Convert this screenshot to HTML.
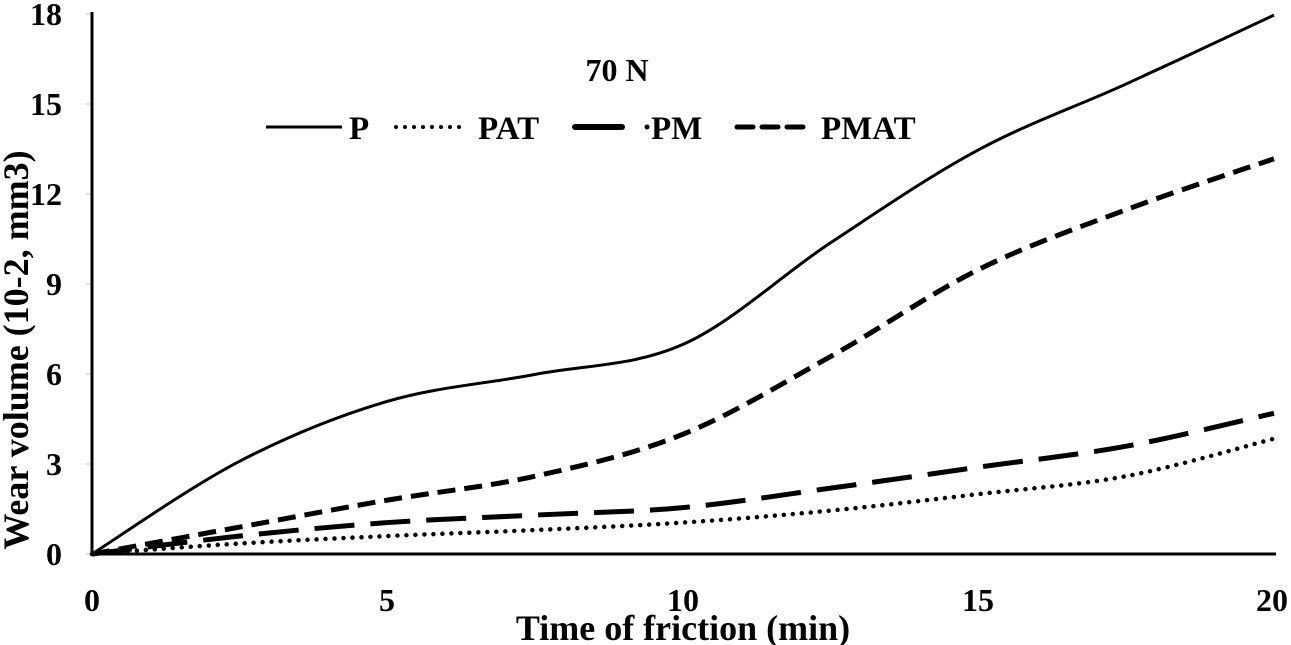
<!DOCTYPE html>
<html><head><meta charset="utf-8"><style>
body{margin:0;background:#fff}
svg{display:block;font-family:"Liberation Serif",serif;font-weight:bold}
</style></head><body>
<svg id="s" width="1291" height="645" viewBox="0 0 1291 645">
<g stroke="#bbb" stroke-width="1">
<line x1="86" y1="14" x2="92" y2="14"/><line x1="86" y1="104" x2="92" y2="104"/><line x1="86" y1="194" x2="92" y2="194"/><line x1="86" y1="284" x2="92" y2="284"/><line x1="86" y1="374" x2="92" y2="374"/><line x1="86" y1="464" x2="92" y2="464"/><line x1="86" y1="554" x2="92" y2="554"/>
</g>
<line x1="92" y1="12" x2="92" y2="555" stroke="#000" stroke-width="3"/>
<line x1="91" y1="554" x2="1276" y2="554" stroke="#000" stroke-width="3"/>
<g font-size="32" text-anchor="end">
<text x="62" y="25">18</text><text x="62" y="115">15</text><text x="62" y="205">12</text><text x="62" y="295">9</text><text x="62" y="385">6</text><text x="62" y="475">3</text><text x="62" y="565">0</text>
</g>
<g font-size="32" text-anchor="middle">
<text x="92" y="611">0</text><text x="387" y="611">5</text><text x="683" y="611">10</text><text x="978" y="611">15</text><text x="1272" y="611">20</text>
</g>
<text x="683" y="640" font-size="36" text-anchor="middle">Time of friction (min)</text>
<text transform="translate(28,350) rotate(-90)" font-size="36" text-anchor="middle">Wear volume (10-2, mm3)</text>
<text x="617" y="81" font-size="32" text-anchor="middle">70 N</text>
<g font-size="33">
<line x1="266" y1="127" x2="342" y2="127" stroke="#000" stroke-width="3"/><text x="349" y="139">P</text>
<line x1="396" y1="127" x2="465" y2="127" stroke="#000" stroke-width="4" stroke-dasharray="0 9" stroke-linecap="round"/><text x="478" y="139">PAT</text>
<line x1="575" y1="127" x2="622" y2="127" stroke="#000" stroke-width="6" stroke-linecap="round"/><circle cx="647" cy="127" r="2.5"/><text x="651" y="139">PM</text>
<line x1="737" y1="127" x2="805" y2="127" stroke="#000" stroke-width="5" stroke-dasharray="16 9" stroke-linecap="round"/><text x="821" y="139">PMAT</text>
</g>
<path id="P" fill="none" stroke="#000" stroke-width="3"/>
<path id="PAT" fill="none" stroke="#000" stroke-width="4.5" stroke-dasharray="0 9" stroke-linecap="round"/>
<path id="PM" fill="none" stroke="#000" stroke-width="5" stroke-dasharray="40 16"/>
<path id="PMAT" fill="none" stroke="#000" stroke-width="5" stroke-dasharray="18 9"/>
</svg>
<script>
function X(t){return 92+t*59.1}function Y(v){return 554-v*29.94}
function cr(pts){var p=pts.map(function(a){return[X(a[0]),Y(a[1])]});var d="M"+p[0];
for(var i=0;i<p.length-1;i++){var p0=p[i-1]||p[i],p1=p[i],p2=p[i+1],p3=p[i+2]||p2;
d+=" C"+(p1[0]+(p2[0]-p0[0])/6)+","+(p1[1]+(p2[1]-p0[1])/6)+" "+(p2[0]-(p3[0]-p1[0])/6)+","+(p2[1]-(p3[1]-p1[1])/6)+" "+p2;}return d}
var D={P:[[0,0],[2.5,3.1],[5,5.1],[7.5,6.0],[10,7.0],[12.5,10.4],[15,13.5],[17.5,15.7],[20,18]],
PMAT:[[0,0],[2.5,0.9],[5,1.8],[7.5,2.6],[10,4.0],[12.5,6.6],[15,9.5],[17.5,11.5],[20,13.2]],
PM:[[0,0],[2.5,0.6],[5,1.05],[7.5,1.3],[10,1.55],[12.5,2.2],[15,2.9],[17.5,3.6],[20,4.7]],
PAT:[[0,0],[2.5,0.35],[5,0.6],[7.5,0.8],[10,1.05],[12.5,1.45],[15,2.0],[17.5,2.6],[20,3.85]]};
for(var k in D)document.getElementById(k).setAttribute("d",cr(D[k]));
</script>
</body></html>
